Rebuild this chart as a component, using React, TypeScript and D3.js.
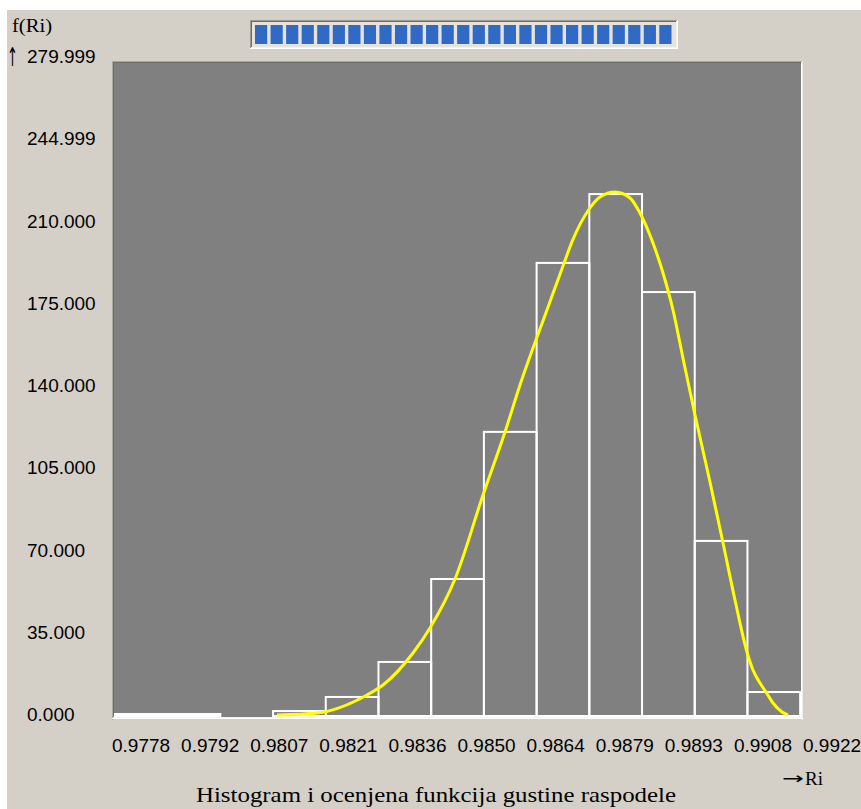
import React from 'react';
import * as d3 from 'd3';

// Histogram counts (13 bins)
const counts = [0.85, 0.85, 0, 2.1, 8.1, 23.0, 58.3, 120.9, 192.8, 222.1, 180.4, 74.5, 10.2];
const binLow = 0.97784;
const binHigh = 0.99212;

// Estimated density curve
const curveX = [0.981218, 0.982051, 0.983093, 0.983427, 0.984052, 0.984406, 0.984927, 0.985511, 0.985969, 0.986282, 0.986844, 0.987178, 0.987386, 0.987699, 0.987949, 0.988261, 0.988574, 0.988782, 0.989053, 0.989262, 0.98947, 0.989699, 0.989929, 0.990241, 0.990491, 0.990762, 0.991012, 0.991137, 0.991283, 0.991408, 0.991554, 0.991742, 0.991867];
const curveY = [0.43, 1.28, 8.94, 13.19, 26.81, 37.45, 58.3, 94.04, 120.85, 140.85, 172.77, 191.5, 202.8, 215.0, 220.85, 222.98, 220.43, 214.04, 201.28, 188.51, 172.77, 150.2, 128.09, 99.57, 75.74, 49.36, 27.23, 19.57, 14.04, 10.21, 5.53, 1.7, 0.43];

const xTickValues = [0.9778, 0.97924, 0.98068, 0.98212, 0.98356, 0.985, 0.98644, 0.98788, 0.98932, 0.99076, 0.9922];
const xTickLabels = ['0.9778', '0.9792', '0.9807', '0.9821', '0.9836', '0.9850', '0.9864', '0.9879', '0.9893', '0.9908', '0.9922'];
const yTickValues = [279.999, 244.999, 210, 175, 140, 105, 70, 35, 0];
const yTickLabels = ['279.999', '244.999', '210.000', '175.000', '140.000', '105.000', '70.000', '35.000', '0.000'];

const W = 861;
const H = 809;
const BG = '#d4d0c8';

export default function App() {
  const x = d3.scaleLinear().domain([0.9778, 0.9922]).range([113, 804]);
  const y = d3.scaleLinear().domain([0, 280]).range([716, 58]);

  const edges = d3.range(counts.length + 1).map((i) => binLow + (i * (binHigh - binLow)) / counts.length);
  const pts: [number, number][] = curveX.map((v, i) => [v, curveY[i]]);
  const line = d3
    .line<[number, number]>()
    .x((d) => x(d[0]))
    .y((d) => y(d[1]))
    .curve(d3.curveMonotoneX);

  const blocks = d3.range(27);
  const sans = "'Liberation Sans', Arial, sans-serif";
  const serif = "'Liberation Serif', 'Times New Roman', serif";

  return (
    <svg width={W} height={H} style={{ position: 'absolute', left: 0, top: 0 }}>
      <rect x={0} y={0} width={W} height={H} fill="#ffffff" />
      <rect x={7} y={10} width={W - 7} height={H - 10} fill={BG} />

      {/* progress bar */}
      <rect x={252} y={22} width={424} height={25} fill="#e6e3dc" />
      <line x1={250} x2={678} y1={20.5} y2={20.5} stroke="#9a988f" />
      <line x1={251} x2={677} y1={21.5} y2={21.5} stroke="#6e6d66" />
      <line x1={250.5} x2={250.5} y1={20} y2={49} stroke="#9a988f" />
      <line x1={251.5} x2={251.5} y1={21} y2={48} stroke="#6e6d66" />
      <line x1={250} x2={678} y1={48.5} y2={48.5} stroke="#ffffff" />
      <line x1={251} x2={677} y1={47.5} y2={47.5} stroke="#f4f2ea" />
      <line x1={677.5} x2={677.5} y1={20} y2={49} stroke="#ffffff" />
      <line x1={676.5} x2={676.5} y1={21} y2={48} stroke="#f4f2ea" />
      {blocks.map((i) => (
        <rect key={i} x={255 + i * 15.55} y={25} width={12.2} height={19} fill="#316ac5" />
      ))}

      {/* plot frame */}
      <rect x={113} y={62} width={689} height={656} fill="#808080" />
      <line x1={112} x2={803} y1={61.5} y2={61.5} stroke="#a9a89f" />
      <line x1={113} x2={802} y1={62.5} y2={62.5} stroke="#6f6e66" />
      <line x1={112.5} x2={112.5} y1={61} y2={720} stroke="#a9a89f" />
      <line x1={113.5} x2={113.5} y1={62} y2={719} stroke="#6f6e66" />
      <line x1={801.5} x2={801.5} y1={62} y2={719} stroke="#ffffff" />
      <line x1={802.5} x2={802.5} y1={61} y2={720} stroke="#eeede8" />
      <line x1={113} x2={802} y1={717.5} y2={717.5} stroke="#f4f3ee" />
      <line x1={112} x2={803} y1={718.5} y2={718.5} stroke="#ffffff" />

      {/* histogram bars */}
      {counts.map((c, i) =>
        c > 0 ? (
          <rect
            key={i}
            x={x(edges[i])}
            y={y(c)}
            width={x(edges[i + 1]) - x(edges[i])}
            height={y(0) - y(c)}
            fill="none"
            stroke="#ffffff"
            strokeWidth={2}
          />
        ) : null
      )}

      {/* density curve */}
      <path d={line(pts) || ''} fill="none" stroke="#ffff00" strokeWidth={3} strokeLinejoin="round" />

      {/* y axis labels */}
      {yTickValues.map((v, i) => (
        <text key={i} x={27} y={y(v) + 5} fontFamily={sans} fontSize={19} fill="#000">
          {yTickLabels[i]}
        </text>
      ))}
      <text
        x={0}
        y={0}
        transform="translate(7,66) scale(0.5,1)"
        fontFamily="'DejaVu Sans', sans-serif"
        fontSize={26}
        fill="#000"
      >
        ↑
      </text>
      <text x={12} y={32} fontFamily={serif} fontSize={19} fill="#000" textLength={40} lengthAdjust="spacingAndGlyphs">
        f(Ri)
      </text>

      {/* x axis labels */}
      {xTickValues.map((v, i) => (
        <text key={i} x={x(v) - 1} y={752} fontFamily={sans} fontSize={19} fill="#000">
          {xTickLabels[i]}
        </text>
      ))}
      <text x={782} y={784} fontFamily="'DejaVu Sans', sans-serif" fontSize={16} fill="#000" textLength={22} lengthAdjust="spacingAndGlyphs">
        →
      </text>
      <text x={805} y={785} fontFamily={serif} fontSize={19} fill="#000">Ri</text>

      <text x={196} y={802} fontFamily={serif} fontSize={21} fill="#000" textLength={480} lengthAdjust="spacingAndGlyphs">
        Histogram i ocenjena funkcija gustine raspodele
      </text>
    </svg>
  );
}
